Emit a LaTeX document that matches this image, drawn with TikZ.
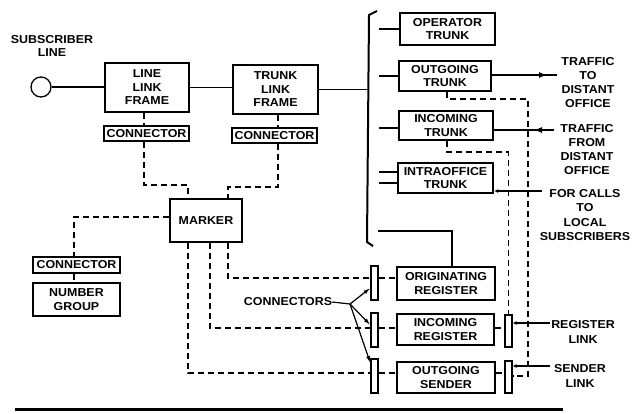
\documentclass[tikz,border=0pt]{standalone}
\usepackage{fontspec}
\setmainfont{Liberation Sans}[FakeStretch=1.08]
\usetikzlibrary{arrows.meta}
\begin{document}
\begin{tikzpicture}[x=1pt,y=-1pt,
  every node/.style={font=\fontsize{11.5}{13.5}\selectfont\bfseries, align=center, inner sep=0pt},
  mainbox/.style={draw, line width=2.4pt},
  midbox/.style={draw, line width=1.8pt},
  thinbox/.style={draw, line width=1.1pt},
  barbox/.style={draw, line width=1.3pt, minimum width=7pt},
  ln/.style={line width=1.8pt},
  dsh/.style={line width=1.4pt, dash pattern=on 6pt off 4pt},
  tip/.style={-{Latex[length=9pt,width=6pt]}},
  smalltip/.style={-{Latex[length=4pt,width=4pt]}},
  lbl/.style={font=\fontsize{11.5}{14.3}\selectfont\bfseries}]
\path[use as bounding box] (0,0) rectangle (634,413);

% left part
\node[circle, draw, line width=1.3pt, minimum size=20pt] (sub) at (41,87) {};
\node (sublbl) at (52,46) {SUBSCRIBER\\LINE};
\node[mainbox, minimum width=84pt, minimum height=49pt] (llf) at (147,87.5) {LINE\\LINK\\FRAME};
\node[mainbox, minimum width=85pt, minimum height=49pt] (tlf) at (275.5,89.5) {TRUNK\\LINK\\FRAME};
\node[thinbox, minimum width=85pt, minimum height=15pt] (con1) at (146.5,133.5) {CONNECTOR};
\node[thinbox, minimum width=85pt, minimum height=15pt] (con2) at (274.5,135.5) {CONNECTOR};
\node[midbox, minimum width=72pt, minimum height=43pt] (marker) at (206,220.5) {MARKER};
\node[thinbox, minimum width=87pt, minimum height=16pt] (con3) at (76.5,265) {CONNECTOR};
\node[midbox, minimum width=87pt, minimum height=33pt] (numg) at (76.5,299.5) {NUMBER\\GROUP};

% trunks
\node[mainbox, minimum width=95pt, minimum height=32pt] (optrunk) at (447.5,29) {OPERATOR\\TRUNK};
\node[mainbox, minimum width=92pt, minimum height=30pt] (outtrunk) at (445,76) {OUTGOING\\TRUNK};
\node[mainbox, minimum width=94pt, minimum height=29pt] (intrunk) at (446,125.5) {INCOMING\\TRUNK};
\node[mainbox, minimum width=95pt, minimum height=30pt] (intratrunk) at (445.5,178) {INTRAOFFICE\\TRUNK};

% registers
\node[mainbox, minimum width=98pt, minimum height=33pt] (origreg) at (446,283.5) {ORIGINATING\\REGISTER};
\node[mainbox, minimum width=97pt, minimum height=31pt] (increg) at (445.5,329.5) {INCOMING\\REGISTER};
\node[mainbox, minimum width=98pt, minimum height=31pt] (outsend) at (446,377.5) {OUTGOING\\SENDER};
\node[barbox, minimum height=34pt] (cb1) at (374.5,283) {};
\node[barbox, minimum height=34pt] (cb2) at (374.5,330) {};
\node[barbox, minimum height=34pt] (cb3) at (374.5,376) {};
\node[barbox, minimum height=32pt] (rlbar) at (508.5,331) {};
\node[barbox, minimum height=32pt] (slbar) at (508.5,377) {};

% labels
\node[lbl] (tt) at (588,82.5) {TRAFFIC\\TO\\DISTANT\\OFFICE};
\node[lbl] (tf) at (587,149.5) {TRAFFIC\\FROM\\DISTANT\\OFFICE};
\node[lbl] (fc) at (585,215) {FOR CALLS\\TO\\LOCAL\\SUBSCRIBERS};
\node[lbl] (rlt) at (583,332) {REGISTER\\LINK};
\node[lbl] (slt) at (580,376) {SENDER\\LINK};
\node (cl) at (288,302) {CONNECTORS};

% solid lines
\coordinate (brx) at (368,0);
\draw[ln] (sub) -- (llf.west |- sub);
\draw[ln] (llf.east) -- (tlf.west |- llf.east);
\draw[ln] (tlf.east) -- (tlf.east -| brx);
\coordinate (br1) at (377,11);
\coordinate (br2) at (369,15);
\coordinate (br3) at (367,242);
\coordinate (br4) at (373,246);
\draw[line width=2pt] (br1) -- (br2) -- (br3) -- (br4);
\draw[ln] (optrunk.west) -- ++(-20,0);
\draw[ln] (outtrunk.west) -- ++(-19,0);
\draw[ln] ([yshift=-2.5pt]intrunk.west) -- ++(-19,0);
\draw[ln] ([yshift=6pt]intratrunk.west) -- ++(-18,0);
\draw[ln] ([yshift=-5pt]intratrunk.west) -- ++(-18,0);
\coordinate (k10) at (378,231);
\coordinate (xo) at (452,0);
\draw[ln] (k10) -| (origreg.north -| xo);

\coordinate (oa) at (557,75);
\coordinate (oah) at (548,75);
\draw[ln] (outtrunk.east |- oa) -- (oa);
\draw[ln, tip] (outtrunk.east |- oa) -- (oah);
\coordinate (ia) at (554,130);
\coordinate (iah) at (533,130);
\draw[ln] (ia) -- (intrunk.east |- ia);
\draw[ln, tip] (ia) -- (iah);
\coordinate (ic) at (542,191);
\draw[ln, smalltip] (ic) -- (intratrunk.east |- ic);
\coordinate (rl) at (550,323);
\draw[ln, smalltip] (rl) -- (rlbar.east |- rl);
\coordinate (sl) at (550,366);
\draw[ln, smalltip] (sl) -- (slbar.east |- sl);

% connectors label arrows
\coordinate (cj) at (350,304);
\draw[line width=1.2pt] (cl.east) -- (cj);
\draw[line width=1.2pt, -{Latex[length=7pt,width=4pt]}] (cj) -- ([yshift=-5pt]cb1.west);
\draw[line width=1.2pt, -{Latex[length=7pt,width=4pt]}] (cj) -- ([yshift=5pt]cb2.west);
\draw[line width=1.2pt, -{Latex[length=7pt,width=4pt]}] (cj) -- ([yshift=13pt]cb3.west);

% dashed control lines
\coordinate (k1) at (144,185);
\coordinate (xa) at (188,0);
\draw[dsh] (llf.south -| k1) -- (con1.north -| k1);
\draw[dsh] (con1.south -| k1) -- (k1) -| (marker.north -| xa);
\coordinate (k2) at (278,187);
\coordinate (xb) at (228,0);
\draw[dsh] (tlf.south -| k2) -- (con2.north -| k2);
\draw[dsh] (con2.south -| k2) -- (k2) -| (marker.north -| xb);
\coordinate (k3) at (74,217);
\draw[dsh] (marker.west |- k3) -- (k3) -- (con3.north -| k3);
\draw[dsh] (con3.south -| k3) -- (numg.north -| k3);

\coordinate (k4) at (228,278);
\draw[dsh] (marker.south -| k4) -- (k4) -- (cb1.west |- k4);
\draw[dsh] (cb1.east |- k4) -- (origreg.west |- k4);
\coordinate (k5) at (210,328);
\draw[dsh] (marker.south -| k5) -- (k5) -- (cb2.west |- k5);
\draw[dsh] (cb2.east |- k5) -- (increg.west |- k5);
\draw[dsh] (increg.east |- k5) -- (rlbar.west |- k5);
\coordinate (k6) at (188,373);
\draw[dsh] (marker.south -| k6) -- (k6) -- (cb3.west |- k6);
\draw[dsh] (cb3.east |- k6) -- (outsend.west |- k6);
\draw[dsh] (outsend.east |- k6) -- (slbar.west |- k6);

\coordinate (k7) at (447,99);
\coordinate (k8) at (528,376);
\draw[dsh] (outtrunk.south -| k7) -- (k7) -| (k8) -- (slbar.east |- k8);
\coordinate (k9) at (447,152);
\draw[dsh] (intrunk.south -| k9) -- (k9) -| (rlbar.north);

% bottom rule
\coordinate (b1) at (15,409);
\coordinate (b2) at (563,409);
\draw[line width=3pt] (b1) -- (b2);
\end{tikzpicture}
\end{document}
